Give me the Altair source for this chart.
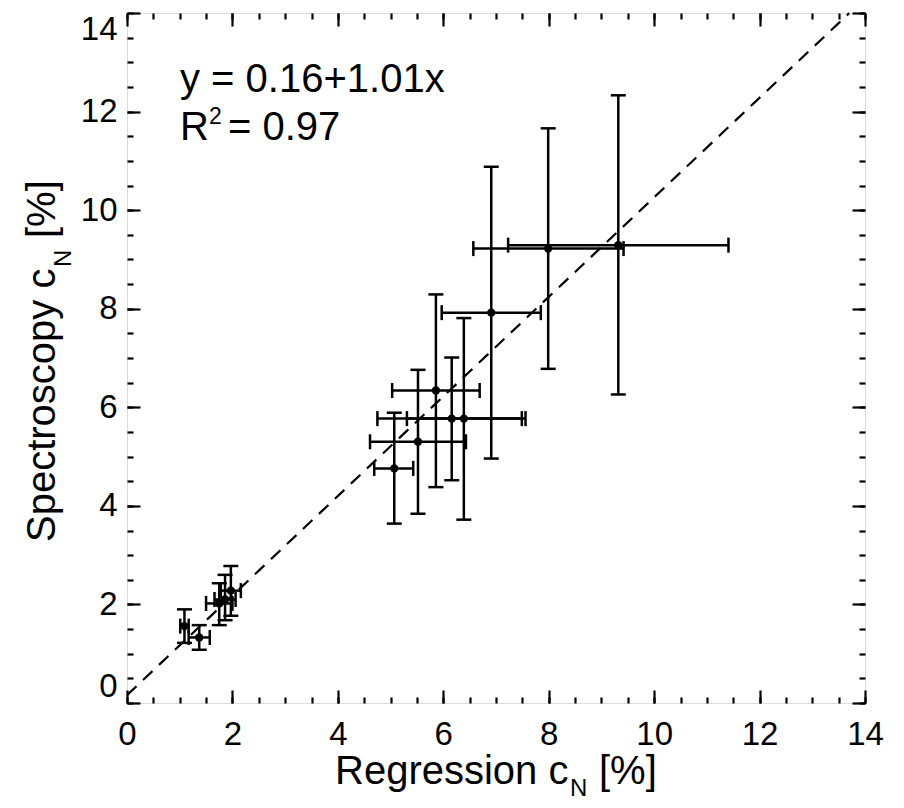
import altair as alt
import pandas as pd

# ---- data ----
x_val = [1.09, 1.37, 1.75, 1.86, 1.97, 5.07, 5.52, 5.86, 6.16, 6.39, 6.91, 7.99, 9.32]
y_val = [1.56, 1.33, 2.02, 2.10, 2.28, 4.76, 5.30, 6.34, 5.77, 5.77, 7.92, 9.22, 9.29]
x_lo = [1.01, 1.17, 1.50, 1.66, 1.78, 4.69, 4.61, 5.03, 4.75, 5.31, 5.97, 6.57, 7.23]
x_hi = [1.17, 1.57, 2.00, 2.06, 2.16, 5.43, 6.43, 6.69, 7.56, 7.49, 7.85, 9.42, 11.41]
y_lo = [1.22, 1.08, 1.58, 1.68, 1.77, 3.64, 3.84, 4.38, 4.52, 3.72, 4.96, 6.78, 6.26]
y_hi = [1.90, 1.58, 2.43, 2.60, 2.78, 5.89, 6.76, 8.29, 7.01, 7.81, 10.88, 11.66, 12.33]

fit_intercept = 0.16
fit_slope = 1.01
fit_x = [0.0, 13.7]

major_ticks = [0, 2, 4, 6, 8, 10, 12, 14]
minor_ticks = [i * 0.5 for i in range(29)]

FONT = "Liberation Sans"

df = pd.DataFrame({"x": x_val, "y": y_val, "xlo": x_lo, "xhi": x_hi,
                   "ylo": y_lo, "yhi": y_hi})
fit_df = pd.DataFrame({"x": fit_x})
one = pd.DataFrame({"a": [0]})

xs = alt.Scale(domain=[0, 14], nice=False, zero=False)
ys = alt.Scale(domain=[0, 14], nice=False, zero=False)


def ax(orient, values, size, labels):
    kw = dict(orient=orient, values=values, tickSize=size, offset=-size,
              labels=labels, title=None, domain=False, grid=False,
              tickColor="black", tickWidth=2.2)
    if labels:
        kw.update(labelFont=FONT, labelFontSize=33, labelColor="black",
                  format="d")
        if orient == "bottom":
            kw.update(labelPadding=15, labelFlush=False)
        else:
            kw.update(labelPadding=10, labelFlush=True)
    return alt.Axis(**kw)


def axis_layer(xaxis, yaxis):
    return alt.Chart(df).mark_point(opacity=0).encode(
        x=alt.X("x:Q", scale=xs, axis=xaxis),
        y=alt.Y("y:Q", scale=ys, axis=yaxis),
    )


axes = [
    axis_layer(ax("bottom", major_ticks, 13, True), ax("left", major_ticks, 13, True)),
    axis_layer(ax("bottom", minor_ticks, 6, False), ax("left", minor_ticks, 6, False)),
    axis_layer(ax("top", major_ticks, 13, False), ax("right", major_ticks, 13, False)),
    axis_layer(ax("top", minor_ticks, 6, False), ax("right", minor_ticks, 6, False)),
]

base = alt.Chart(df)
X = alt.X("x:Q", scale=xs, axis=None)
Y = alt.Y("y:Q", scale=ys, axis=None)

vbar = base.mark_rule(color="black", strokeWidth=2.5).encode(
    x=X, y=alt.Y("ylo:Q", scale=ys, axis=None), y2="yhi:Q")
hbar = base.mark_rule(color="black", strokeWidth=2.5).encode(
    y=Y, x=alt.X("xlo:Q", scale=xs, axis=None), x2="xhi:Q")
cap_ylo = base.mark_tick(orient="horizontal", color="black", size=15,
                         thickness=2.5, opacity=1).encode(
    x=X, y=alt.Y("ylo:Q", scale=ys, axis=None))
cap_yhi = base.mark_tick(orient="horizontal", color="black", size=15,
                         thickness=2.5, opacity=1).encode(
    x=X, y=alt.Y("yhi:Q", scale=ys, axis=None))
cap_xlo = base.mark_tick(orient="vertical", color="black", size=15,
                         thickness=2.5, opacity=1).encode(
    y=Y, x=alt.X("xlo:Q", scale=xs, axis=None))
cap_xhi = base.mark_tick(orient="vertical", color="black", size=15,
                         thickness=2.5, opacity=1).encode(
    y=Y, x=alt.X("xhi:Q", scale=xs, axis=None))
pts = base.mark_circle(color="black", size=70, opacity=1).encode(x=X, y=Y)

fit = alt.Chart(fit_df).transform_calculate(
    yfit=f"{fit_intercept} + {fit_slope} * datum.x"
).mark_line(color="black", strokeWidth=2.2, strokeDash=[13, 9]).encode(
    x=X, y=alt.Y("yfit:Q", scale=ys, axis=None))


def txt(s, px, py, size, align="left", angle=0):
    return alt.Chart(one).mark_text(
        text=s, font=FONT, fontSize=size, align=align, baseline="alphabetic",
        angle=angle, color="black"
    ).encode(x=alt.value(px), y=alt.value(py))


texts = [
    txt("y = 0.16+1.01x", 53, 79, 40),
    txt("R", 53, 127, 40),
    txt("2", 82, 111, 23),
    txt("= 0.97", 101, 127, 40),
    # x title with subscript
    txt("Regression c", 208, 771, 40),
    txt("N", 443, 783, 24),
    txt("[%]", 472, 771, 40),
    # y title (rotated) with subscript
    txt("Spectroscopy c", -72, 529, 40, angle=270),
    txt("N", -56, 254, 24, angle=270),
    txt("[%]", -72, 225, 40, angle=270),
]

chart = alt.layer(
    *axes, fit, vbar, hbar, cap_ylo, cap_yhi, cap_xlo, cap_xhi, pts, *texts
).resolve_axis(x="independent", y="independent").properties(
    width=738, height=690,
    autosize=alt.AutoSizeParams(type="none"),
    padding={"left": 119, "top": 5, "right": 31, "bottom": 97},
).configure_view(stroke="black", strokeWidth=2.5).configure(background="white")

chart.save("out.html", embed_options={"renderer": "svg", "actions": False})
